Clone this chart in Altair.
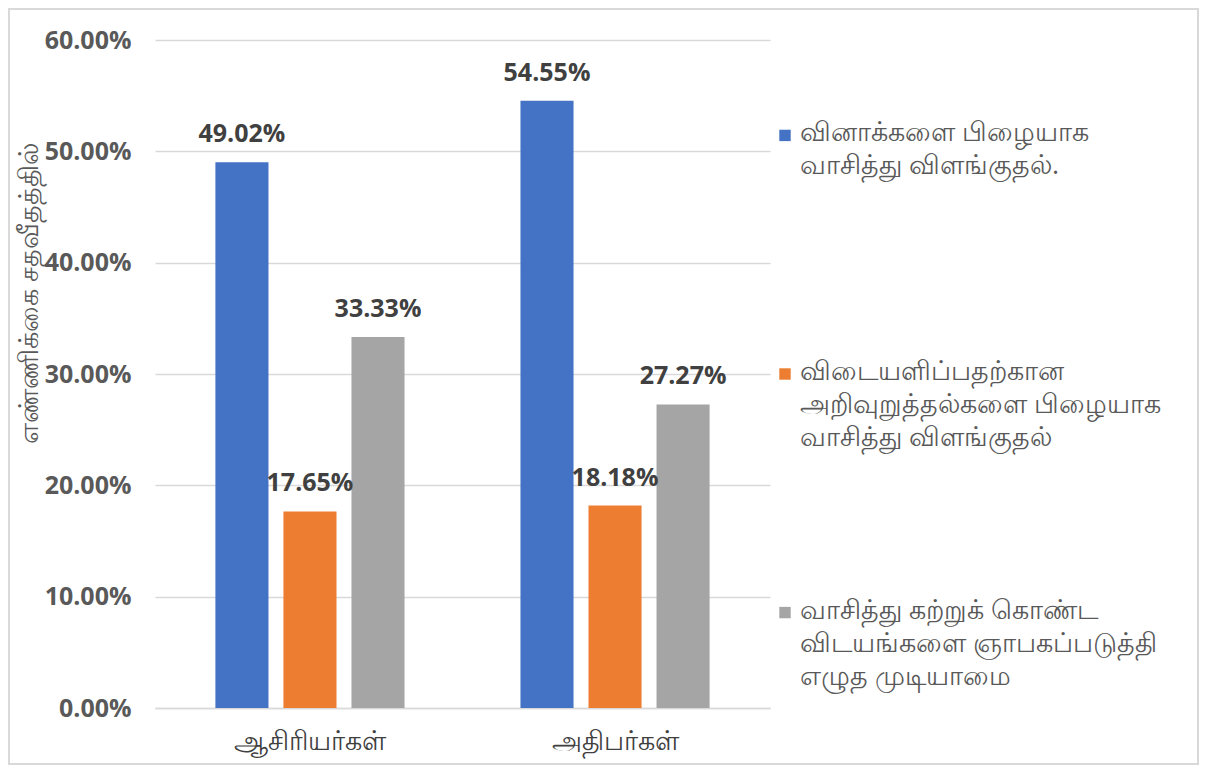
import altair as alt
import pandas as pd

categories = ["ஆசிரியர்கள்", "அதிபர்கள்"]
series_lines = [
    ["வினாக்களை பிழையாக", "வாசித்து விளங்குதல்."],
    ["விடையளிப்பதற்கான", "அறிவுறுத்தல்களை பிழையாக", "வாசித்து விளங்குதல்"],
    ["வாசித்து கற்றுக் கொண்ட", "விடயங்களை ஞாபகப்படுத்தி", "எழுத முடியாமை"],
]
series = ["\n".join(s) for s in series_lines]
colors = ["#4472C4", "#ED7D31", "#A5A5A5"]
values = [
    [0.4902, 0.5455],
    [0.1765, 0.1818],
    [0.3333, 0.2727],
]
y_ticks = [0, 0.1, 0.2, 0.3, 0.4, 0.5, 0.6]
y_title = "எண்ணிக்கை சதவீதத்தில்"

rows = []
for si, s in enumerate(series):
    for ci, c in enumerate(categories):
        rows.append({"category": c, "series": s, "value": values[si][ci]})
df = pd.DataFrame(rows)
legend_df = pd.DataFrame({"series": series})

FONT = "Open Sans"
TAMIL = 27

color_scale = alt.Scale(domain=series, range=colors)

x = alt.X(
    "category:N",
    sort=categories,
    scale=alt.Scale(paddingInner=0.38, paddingOuter=0.198),
    axis=alt.Axis(
        title=None, labelAngle=0, labelFontSize=TAMIL, labelColor="#404040",
        labelPadding=20, ticks=False, domainColor="#d9d9d9", domainWidth=1.5,
        labelFont=FONT,
    ),
)
xo = alt.XOffset("series:N", sort=series, scale=alt.Scale(paddingInner=0.22))
y = alt.Y(
    "value:Q",
    scale=alt.Scale(domain=[0, 0.6]),
    axis=alt.Axis(
        values=y_ticks, format=".2%", title=y_title, titleFontSize=TAMIL,
        titleFontWeight="normal", titleColor="#595959", titleFont=FONT,
        labelFontSize=25, labelFontWeight="bold", labelColor="#595959",
        labelPadding=24, ticks=False, domain=False, gridColor="#d9d9d9",
        gridWidth=1.3, labelFont=FONT, titleX=-112, titleY=253,
    ),
)
color = alt.Color("series:N", sort=series, scale=color_scale, legend=None)

base = alt.Chart(df)
bars = base.mark_bar().encode(x=x, xOffset=xo, y=y, color=color)
labels = base.mark_text(
    baseline="alphabetic", dy=-20, fontSize=25, fontWeight="bold",
    color="#404040", font=FONT,
).encode(x=x, xOffset=xo, y=y, text=alt.Text("value:Q", format=".2%"))

# legend drawn as marks: entries placed by a point scale over the series
ly = alt.Y("series:N", sort=series, scale=alt.Scale(type="point", padding=0.4), axis=None)
leg_base = alt.Chart(legend_df)
leg_sym = leg_base.mark_square(size=130, opacity=1).encode(
    x=alt.value(630), y=ly, color=color
)
leg_txt = leg_base.mark_text(
    align="left", baseline="alphabetic", dy=6, lineBreak="\n", lineHeight=33,
    fontSize=TAMIL, color="#595959", font=FONT,
).encode(x=alt.value(645), y=ly, text="series:N")

frame = alt.Chart(alt.Data(values=[{}])).mark_rect(
    fill="transparent", stroke="#d9d9d9", strokeWidth=2
).encode(x=alt.value(-146), x2=alt.value(1043), y=alt.value(-31), y2=alt.value(724))

chart = alt.layer(
    alt.layer(bars, labels), alt.layer(leg_sym, leg_txt), frame
).resolve_scale(y="independent").properties(
    width=615, height=668,
    padding={"left": 147, "top": 32, "right": 434, "bottom": 58},
    autosize=alt.AutoSizeParams(type="none"),
).configure_view(stroke=None)

chart.save("out.html", embed_options={"renderer": "svg", "actions": False})
